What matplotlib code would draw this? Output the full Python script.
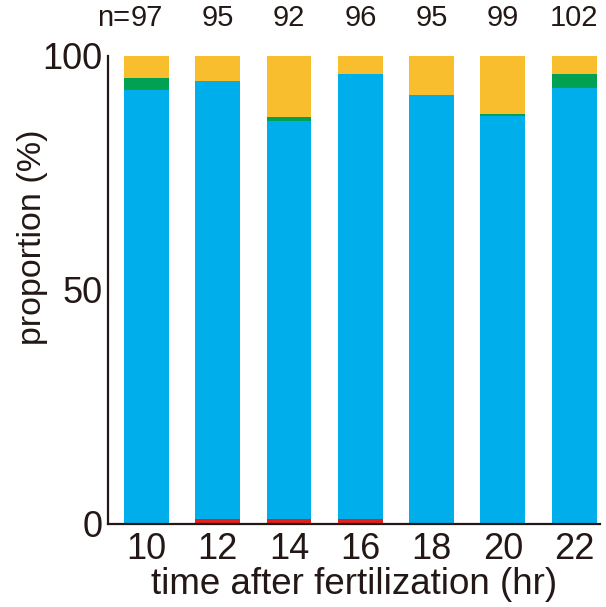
import matplotlib
matplotlib.use("Agg")
import matplotlib.pyplot as plt

# time points (hr) and number of embryos
hours = ['10', '12', '14', '16', '18', '20', '22']
n_counts = ['97', '95', '92', '96', '95', '99', '102']

# proportions (%) for each category, stacked bottom -> top
red = [0, 1.1, 1.1, 1.0, 0, 0, 0]
blue = [92.7, 93.6, 84.9, 95.1, 91.6, 87.1, 93.2]
green = [2.5, 0, 1.0, 0, 0, 0.5, 2.9]
yellow = [4.8, 5.3, 13.0, 3.9, 8.4, 12.4, 3.9]

text_col = '#231815'
plt.rcParams['font.family'] = ['Liberation Sans', 'DejaVu Sans']
plt.rcParams['text.color'] = text_col

fig = plt.figure(figsize=(6.06, 6.07), dpi=100)
ax = fig.add_axes([0.178, 0.137, 0.812, 0.771])

x = list(range(len(hours)))
w = 0.63
bottom = [0] * len(x)
for vals, col in [(red, '#E6211B'), (blue, '#00AEEB'), (green, '#00A153'), (yellow, '#F8BE2E')]:
    ax.bar(x, vals, width=w, bottom=bottom, color=col, linewidth=0)
    bottom = [b + v for b, v in zip(bottom, vals)]

ax.set_xlim(-0.54, 6.36)
ax.set_ylim(0, 100)
ax.set_yticks([0, 50, 100])
ax.set_xticks(x)
ax.set_xticklabels(hours)
ax.tick_params(axis='both', length=0, labelsize=26, colors=text_col)
ax.tick_params(axis='y', pad=4)
ax.tick_params(axis='x', pad=6)

for s in ['top', 'right']:
    ax.spines[s].set_visible(False)
for s in ['left', 'bottom']:
    ax.spines[s].set_color(text_col)
    ax.spines[s].set_linewidth(1.6)

ax.set_xlabel('time after fertilization (hr)', fontsize=26.5, color=text_col, labelpad=0)
ax.set_ylabel('proportion (%)', fontsize=24.5, color=text_col)
ax.yaxis.set_label_coords(-0.122, 0.613)

# sample sizes above bars
for i, n in enumerate(n_counts):
    t = ax.text(i, 1.05, n, transform=ax.get_xaxis_transform(),
                ha='center', va='bottom', fontsize=21, color=text_col)
    if i == 0:
        ax.annotate('n=', xy=(0, 0), xycoords=t, ha='right', va='bottom',
                    fontsize=21, color=text_col)

fig.savefig('out.png', dpi=100)
